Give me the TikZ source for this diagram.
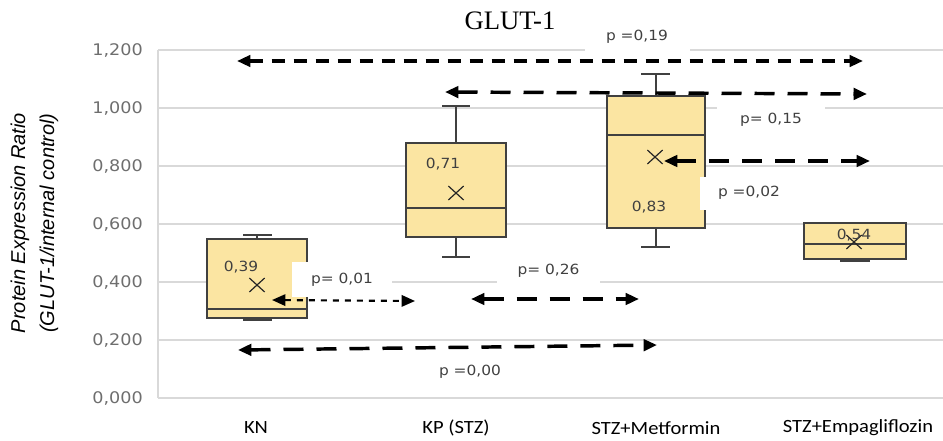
\documentclass[tikz,border=0pt]{standalone}
\usepackage{fontspec}
\setmainfont{Liberation Serif}
\newfontfamily\valfont[FakeStretch=1.1]{DejaVu Sans}
\newfontfamily\catfont[FakeStretch=1.1]{Carlito}
\newfontfamily\axfont{Liberation Sans}
\usetikzlibrary{arrows.meta,shapes.misc}
\definecolor{gridgray}{RGB}{217,217,217}
\definecolor{boxfill}{RGB}{251,229,162}
\definecolor{boxline}{RGB}{64,64,64}
\definecolor{ticktext}{RGB}{110,110,110}
\definecolor{ptext}{RGB}{64,64,64}
\tikzset{
  gridline/.style={color=gridgray,line width=1pt},
  iqbox/.style={draw=boxline,fill=boxfill,line width=1.1pt},
  whisk/.style={draw=boxline,line width=1.1pt},
  meanx/.style={cross out,draw=black!85,line width=0.9pt,minimum width=10.5pt,minimum height=9.5pt,inner sep=0pt},
  plabel/.style={font=\valfont\fontsize{10.5}{12}\selectfont,text=ptext,inner sep=0pt},
  pbox/.style={plabel,fill=white},
  ptip/.tip={Triangle[length=10pt,width=8.5pt]},
  parrow/.style={ptip-ptip,line width=2.6pt,dash pattern=on 15pt off 9.75pt},
}
\begin{document}
\begin{tikzpicture}[x=0.75pt,y=0.75pt,yscale=-1,xscale=1]
\useasboundingbox (0,0) rectangle (943,440);

%Grid lines and tick labels
\foreach \g/\lab [count=\i] in {398/{0,000},340/{0,200},282/{0,400},224/{0,600},166/{0,800},108/{1,000},50/{1,200}}{
  \draw [gridline] (158,\g) -- (943,\g) ;
  \node [anchor=east,inner sep=0pt,text=ticktext,font=\valfont\fontsize{12}{14}\selectfont] (t\i) at (143,\g) {\lab};
}
%Frame left
\draw [gridline] (158,50) -- (158,398) ;

% Title
\node [font=\fontsize{20}{24}\selectfont] (title) at (510,21) {GLUT-1};
% Axis title
\node [rotate=90,align=center,font=\axfont\itshape\fontsize{15}{21.75}\selectfont] (ytitle) at (34.5,223) {Protein Expression Ratio\\(GLUT-1/internal control)};

%Shape: Box [KN]
\draw [whisk] (257,239) -- (257,235) (243,235) -- (272,235) (257,318) -- (257,320) (243,320) -- (272,320) ;
\draw [iqbox] (207,239) rectangle (307,318) ;
\draw [whisk] (207,309) -- (307,309) ;
%Shape: Box [KP]
\draw [whisk] (456,143) -- (456,106) (442,106) -- (470,106) (456,237) -- (456,257) (442,257) -- (470,257) ;
\draw [iqbox] (406,143) rectangle (506,237) ;
\draw [whisk] (406,208) -- (506,208) ;
%Shape: Box [STZ+Metformin]
\draw [whisk] (656,96) -- (656,74) (641,74) -- (670,74) (656,228) -- (656,247) (641,247) -- (670,247) ;
\draw [iqbox] (607,96) rectangle (705,228) ;
\draw [whisk] (607,135) -- (705,135) ;
%Shape: Box [STZ+Empagliflozin]
\draw [whisk] (855,259) -- (855,261) (840,261) -- (870,261) ;
\draw [iqbox] (804,223) rectangle (906,259) ;
\draw [whisk] (804,244) -- (906,244) ;

% Text Node
\node [pbox,minimum width=78.75pt,minimum height=21pt] (p19) at (637,37) {p =0,19};
\node [pbox,minimum width=81pt,minimum height=22.5pt] (p15) at (771,120) {p= 0,15};
\node [pbox,minimum width=73.5pt,minimum height=24.75pt] (p02) at (749,193) {p =0,02};
\node [pbox,minimum width=75pt,minimum height=26.25pt] (p01) at (342,279.5) {p= 0,01};
\node [pbox,minimum width=77.25pt,minimum height=22.5pt] (p26) at (548.5,271) {p= 0,26};
\node [plabel] (p00) at (470,372) {p =0,00};

%Mean markers
\node [meanx] (mKN) at (257,285) {};
\node [meanx] (mKP) at (456,193) {};
\node [meanx] (mMet) at (655,157) {};
\node [meanx] (mEmp) at (854,242) {};
\node [plabel] (vKN) at (241,267) {0,39};
\node [plabel] (vKP) at (443,164) {0,71};
\node [plabel] (vMet) at (649,207) {0,83};
\node [plabel] (vEmp) at (854,235) {0,54};

%Arrows
\coordinate (a19l) at (237,61);
\coordinate (a19r) at (863,61);
\coordinate (a15l) at (445,92);
\coordinate (a15r) at (867,94);
\coordinate (a02r) at (870,161);
\coordinate (a01l) at (272,300);
\coordinate (a01r) at (415,301);
\coordinate (a26l) at (471,299);
\coordinate (a26r) at (639,299);
\coordinate (a00l) at (238,350);
\coordinate (a00r) at (657,345);
\draw [parrow,line width=2.4pt,dash pattern=on 9.75pt off 6.75pt] (a19l) -- (a19r) ;
\draw [parrow] (a15l) -- (a15r) ;
\draw [parrow,shorten <=1pt] (mMet.east |- a02r) -- (a02r) ;
\draw [parrow,line width=1.6pt,dash pattern=on 4.5pt off 4.5pt] (a01l) -- (a01r) ;
\draw [parrow] (a26l) -- (a26r) ;
\draw [parrow] (a00l) -- (a00r) ;

% Category labels
\node [font=\catfont\fontsize{14}{16}\selectfont] (cKN) at (256,428) {KN};
\node [font=\catfont\fontsize{14}{16}\selectfont] (cKP) at (456,428) {KP (STZ)};
\node [font=\catfont\fontsize{14}{16}\selectfont] (cMet) at (656,428) {STZ+Metformin};
\node [font=\catfont\fontsize{14}{16}\selectfont] (cEmp) at (858,428) {STZ+Empagliflozin};
\end{tikzpicture}
\end{document}
